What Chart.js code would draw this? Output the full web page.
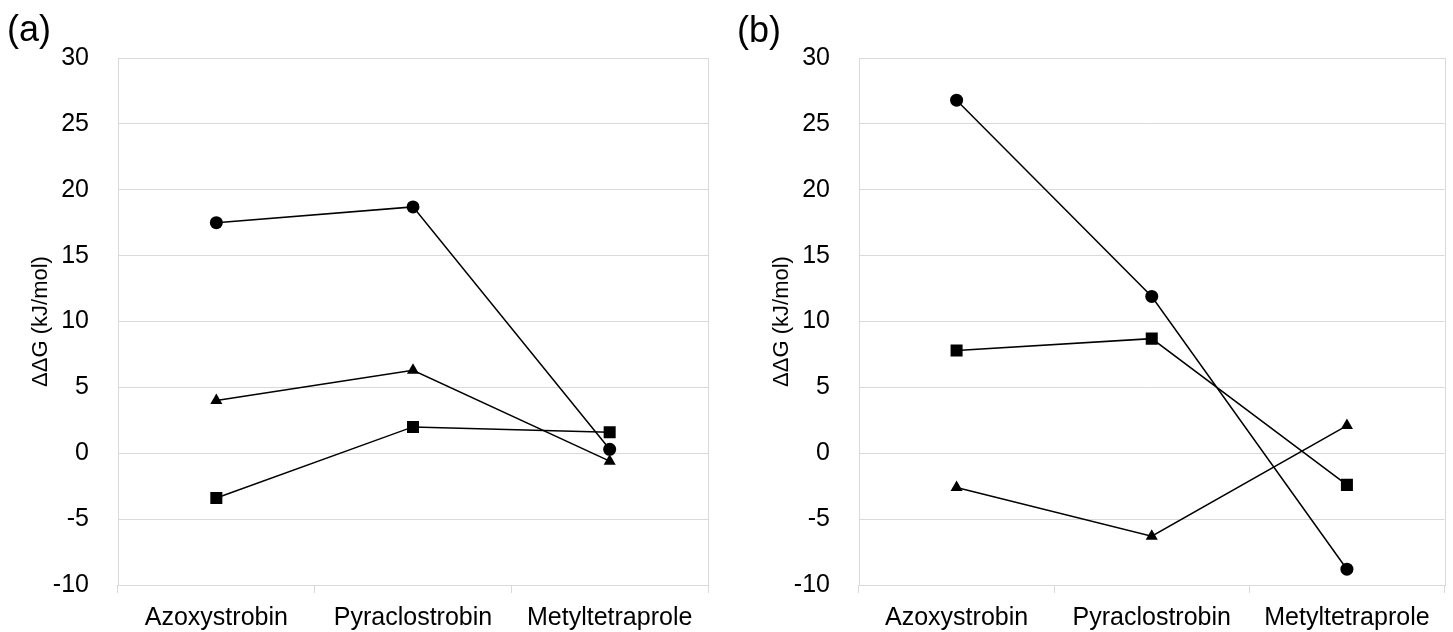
<!DOCTYPE html>
<html>
<head>
<meta charset="utf-8">
<script src="https://cdn.jsdelivr.net/npm/chart.js@4.4.1/dist/chart.umd.min.js"></script>
<style>
  html, body { margin: 0; padding: 0; background: #fff; }
  body { width: 1453px; height: 632px; position: relative; overflow: hidden; font-family: "Liberation Sans", Arial, sans-serif; }
  .box { position: absolute; top: 0; height: 632px; }
  .tag { position: absolute; font-size: 36px; line-height: 1; color: #000; }
</style>
</head>
<body>
<div class="box" id="boxA" style="left:0;width:726px"><canvas id="chartA"></canvas></div>
<div class="box" id="boxB" style="left:726px;width:727px"><canvas id="chartB"></canvas></div>
<div class="tag" style="left:7px;top:11px">(a)</div>
<div class="tag" style="left:737px;top:12px">(b)</div>
<script>
const categories = ['Azoxystrobin', 'Pyraclostrobin', 'Metyltetraprole']
const yTicks = [-10, -5, 0, 5, 10, 15, 20, 25, 30]

// panel (a)
const aCircle = [17.5, 18.7, 0.3]
const aTriangle = [4.0, 6.3, -0.6]
const aSquare = [-3.4, 2.0, 1.6]

// panel (b)
const bCircle = [26.8, 11.9, -8.8]
const bSquare = [7.8, 8.7, -2.4]
const bTriangle = [-2.6, -6.3, 2.1]

const FONT = '"Liberation Sans", Arial, sans-serif'
const GRID = '#d9d9d9'

const frame = {
    id: 'frame',
    afterDraw(chart) {
        const { ctx, chartArea: a } = chart
        ctx.save()
        ctx.strokeStyle = GRID
        ctx.lineWidth = 1
        ctx.strokeRect(Math.round(a.left) + 0.5, Math.round(a.top) + 0.5, Math.round(a.right - a.left), Math.round(a.bottom - a.top))
        ctx.restore()
    }
}

function series(data, style, radius) {
    return {
        data,
        pointStyle: style,
        pointRadius: radius,
        pointHoverRadius: radius,
        borderColor: '#000',
        backgroundColor: '#000',
        pointBackgroundColor: '#000',
        pointBorderColor: '#000',
        pointBorderWidth: 0,
        borderWidth: 1.5,
        tension: 0
    }
}

function makeChart(id, datasets, axisWidth, titlePad, padRight) {
    return new Chart(document.getElementById(id), {
        type: 'line',
        data: { labels: categories, datasets },
        plugins: [frame],
        options: {
            responsive: true,
            maintainAspectRatio: false,
            animation: false,
            layout: { padding: { top: 58, left: 0, right: padRight, bottom: 0 } },
            plugins: { legend: { display: false }, tooltip: { enabled: false } },
            scales: {
                x: {
                    offset: true,
                    grid: { offset: true, drawOnChartArea: false, drawTicks: true, tickLength: 8, color: GRID },
                    border: { display: false },
                    ticks: { color: '#000', font: { family: FONT, size: 25 }, padding: 10, maxRotation: 0 },
                    afterFit(s) { s.height = 47 }
                },
                y: {
                    min: yTicks[0],
                    max: yTicks[yTicks.length - 1],
                    afterBuildTicks(s) { s.ticks = yTicks.map(v => ({ value: v })) },
                    grid: { color: GRID, drawTicks: false },
                    border: { display: false },
                    ticks: { color: '#000', font: { family: FONT, size: 25 }, padding: 29 },
                    title: {
                        display: true,
                        text: 'ΔΔG (kJ/mol)',
                        color: '#000',
                        font: { family: FONT, size: 22 },
                        padding: { top: titlePad, bottom: 0 }
                    },
                    afterFit(s) { s.width = axisWidth }
                }
            }
        }
    })
}

makeChart('chartA', [
    series(aCircle, 'circle', 6.5),
    series(aTriangle, 'triangle', 7),
    series(aSquare, 'rect', 8.5)
], 118, 28, 18)

makeChart('chartB', [
    series(bCircle, 'circle', 6.5),
    series(bSquare, 'rect', 8.5),
    series(bTriangle, 'triangle', 7)
], 133, 43, 5)
</script>
</body>
</html>
